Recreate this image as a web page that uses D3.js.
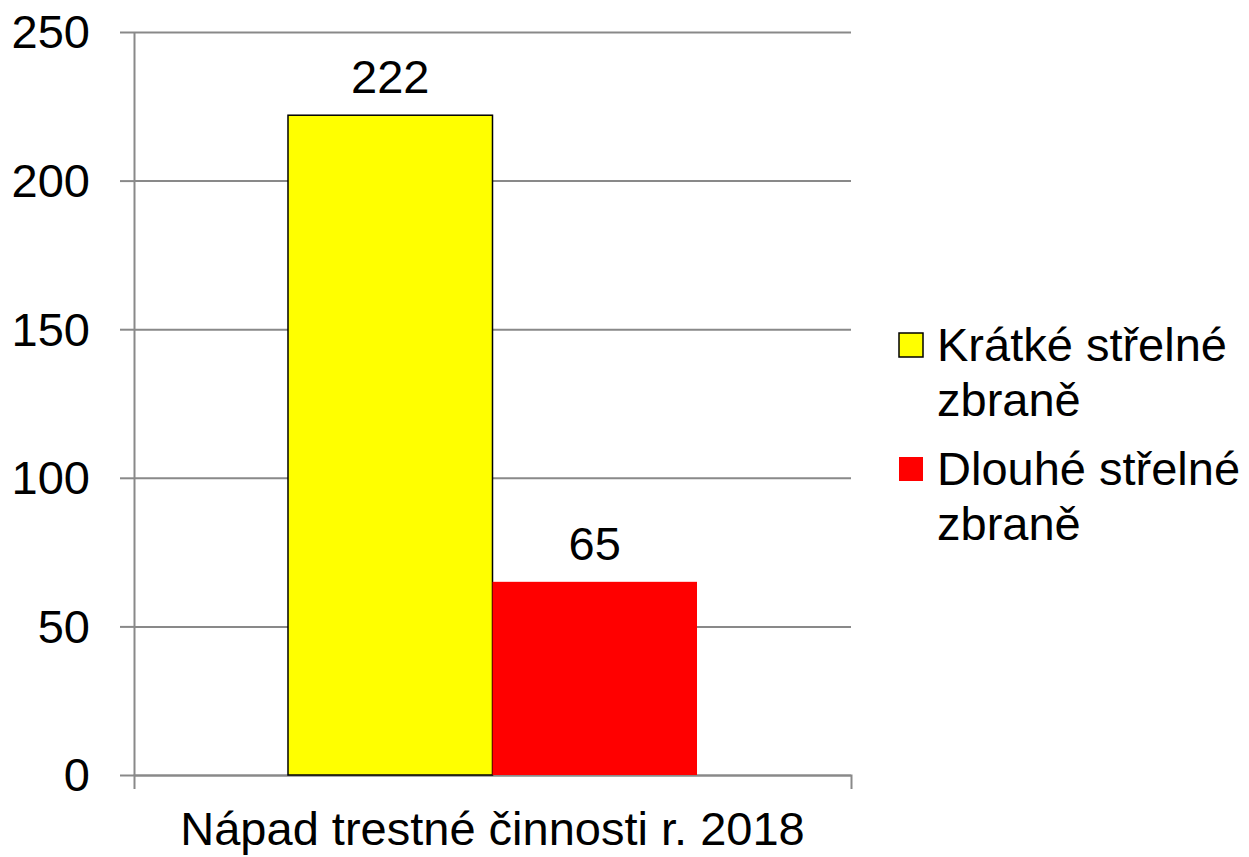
<!DOCTYPE html>
<html>
<head>
<meta charset="utf-8">
<script src="https://cdn.jsdelivr.net/npm/d3@7"></script>
<style>
  body { margin: 0; background: #fff; }
  svg { display: block; font-family: "Liberation Sans", Arial, sans-serif; }
  .axis path, .axis line, .grid line { stroke: #898989; stroke-width: 2; }
  .axis text { font-size: 47px; fill: #000; }
</style>
</head>
<body>
<div id="chart"></div>
<script>
// data
const categories = ["Nápad trestné činnosti r. 2018"];
const seriesNames = ["Krátké střelné zbraně", "Dlouhé střelné zbraně"];
const seriesValues = [222, 65];
const seriesColors = ["#ffff00", "#ff0000"];
const yTicks = [0, 50, 100, 150, 200, 250];

const width = 1249;
const height = 857;
const margin = { top: 32, right: 398, bottom: 82, left: 134 };
const innerWidth = width - margin.left - margin.right;
const innerHeight = height - margin.top - margin.bottom;

const svg = d3.select("#chart")
  .append("svg")
  .attr("width", width)
  .attr("height", height);

const bounds = svg.append("g")
  .attr("transform", `translate(${margin.left},${margin.top})`);

// scales
const x0 = d3.scaleBand()
  .domain(categories)
  .range([0, innerWidth]);

const x1 = d3.scaleBand()
  .domain(seriesNames)
  .range([0, x0.bandwidth()])
  .paddingInner(0)
  .paddingOuter(0.753);

const y = d3.scaleLinear()
  .domain([0, 250])
  .range([innerHeight, 0]);

// gridlines
const grid = bounds.append("g")
  .attr("class", "grid")
  .call(d3.axisLeft(y).tickValues(yTicks).tickSize(-innerWidth).tickFormat(""));
grid.select(".domain").remove();

// y axis
const yAxis = bounds.append("g")
  .attr("class", "axis")
  .call(d3.axisLeft(y).tickValues(yTicks).tickSize(14).tickPadding(30).tickSizeOuter(0));
yAxis.selectAll("text").attr("dy", "0.34em");

// x axis
const xAxis = bounds.append("g")
  .attr("class", "axis")
  .attr("transform", `translate(0,${innerHeight})`)
  .call(d3.axisBottom(x0).tickSize(0).tickSizeOuter(14).tickPadding(70));
xAxis.selectAll("text").attr("dy", "0");

// bars
const groups = bounds.selectAll(".cat")
  .data(categories)
  .join("g")
  .attr("class", "cat")
  .attr("transform", d => `translate(${x0(d)},0)`);

const barData = seriesNames.map((name, i) => ({ name, value: seriesValues[i], color: seriesColors[i], i }));

groups.selectAll("rect")
  .data(barData)
  .join("rect")
  .attr("x", d => x1(d.name))
  .attr("y", d => y(d.value))
  .attr("width", x1.bandwidth())
  .attr("height", d => innerHeight - y(d.value))
  .attr("fill", d => d.color)
  .attr("stroke", d => d.i === 0 ? "#000" : "none")
  .attr("stroke-width", 1.5);

groups.selectAll(".label")
  .data(barData)
  .join("text")
  .attr("class", "label")
  .attr("x", d => x1(d.name) + x1.bandwidth() / 2)
  .attr("y", d => y(d.value) - 22)
  .attr("text-anchor", "middle")
  .attr("font-size", 47)
  .text(d => d.value);

// legend
const legend = svg.append("g")
  .attr("transform", "translate(899,333)");

const items = legend.selectAll("g")
  .data(barData)
  .join("g")
  .attr("transform", d => `translate(0,${d.i * 124})`);

items.append("rect")
  .attr("width", 24)
  .attr("height", 24)
  .attr("fill", d => d.color)
  .attr("stroke", d => d.i === 0 ? "#000" : "none")
  .attr("stroke-width", 1.5);

items.append("text")
  .attr("font-size", 47)
  .each(function (d) {
    const cut = d.name.lastIndexOf(" ");
    const lines = [d.name.slice(0, cut), d.name.slice(cut + 1)];
    d3.select(this).selectAll("tspan")
      .data(lines)
      .join("tspan")
      .attr("x", 38)
      .attr("y", (l, j) => 28 + j * 55)
      .text(l => l);
  });
</script>
</body>
</html>
